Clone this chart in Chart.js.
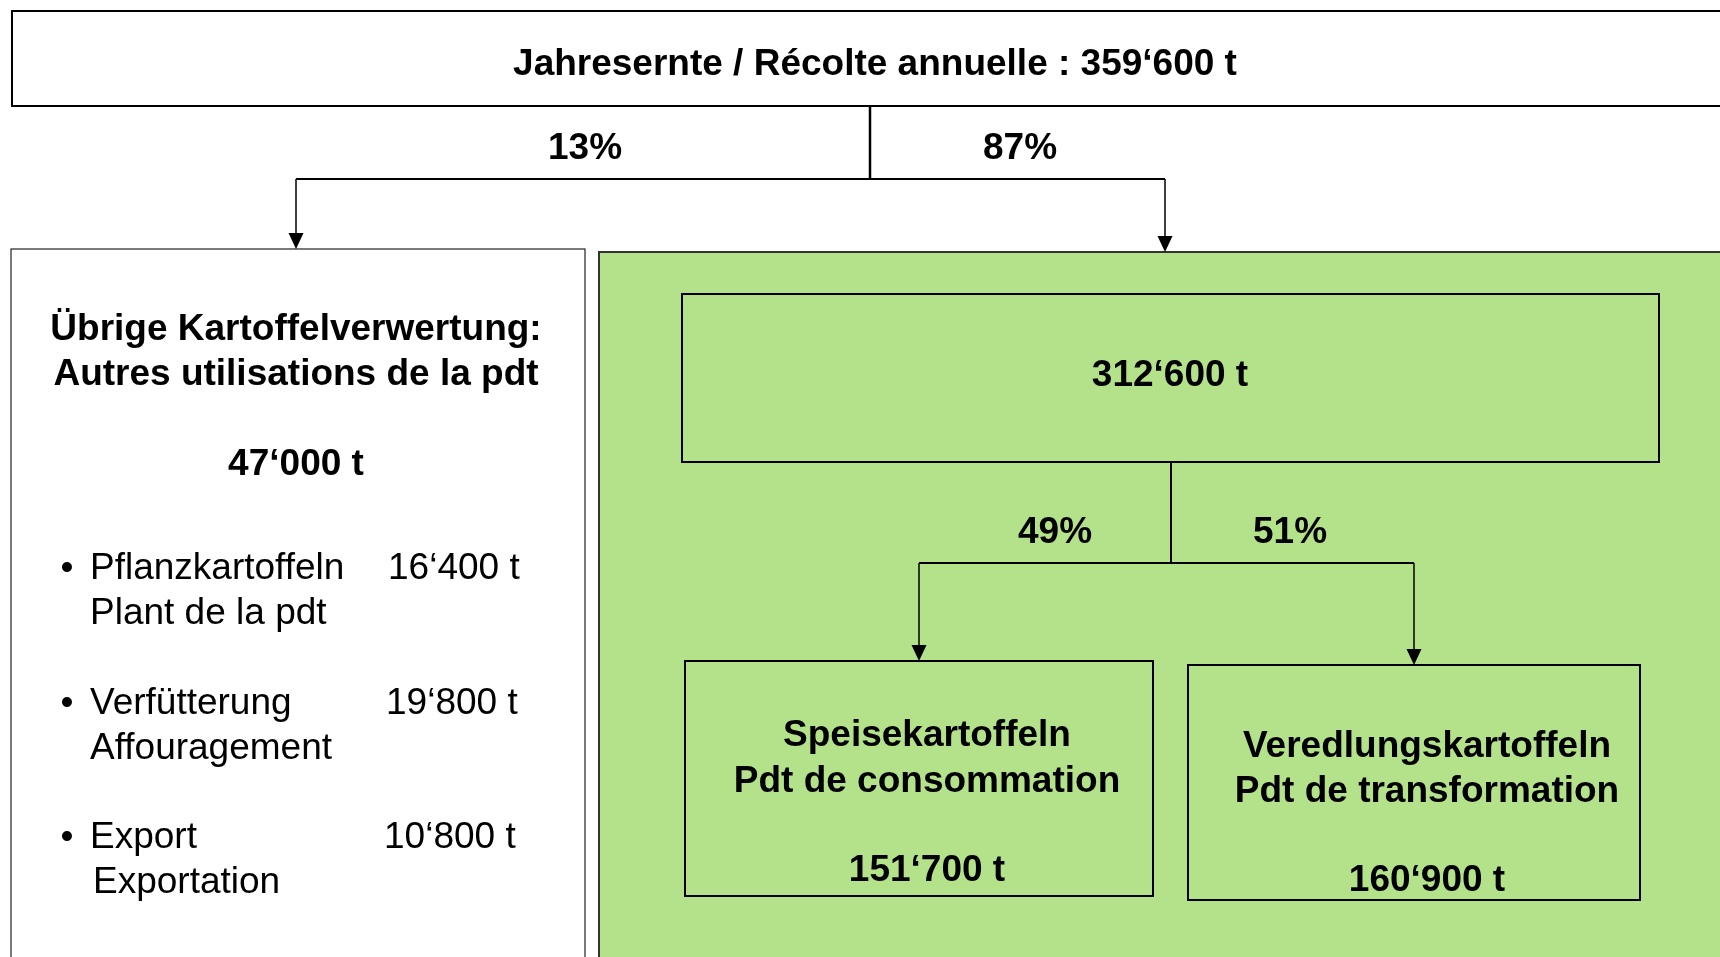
<!DOCTYPE html>
<html>
<head>
<meta charset="utf-8">
<script src="https://cdn.jsdelivr.net/npm/chart.js@4.4.0/dist/chart.umd.min.js"></script>
<style>
  html, body { margin: 0; padding: 0; background: #ffffff; }
  #wrap { width: 1720px; height: 957px; position: relative; }
</style>
</head>
<body>
<div id="wrap"><canvas id="c"></canvas></div>
<script>
// ---- data ----
const harvestTitle = 'Jahresernte / Récolte annuelle : ';
const harvestTotal = 359600;
const splitShares = [13, 87];              // other uses / main use
const otherTotal = 47000;
const mainTotal = 312600;
const mainShares = [49, 51];               // table / processing
const mainCategories = [
  ['Speisekartoffeln', 'Pdt de consommation'],
  ['Veredlungskartoffeln', 'Pdt de transformation']
];
const mainValues = [151700, 160900];
const otherHeading = ['Übrige Kartoffelverwertung:', 'Autres utilisations de la pdt'];
const otherCategoriesDe = ['Pflanzkartoffeln', 'Verfütterung', 'Export'];
const otherCategoriesFr = ['Plant de la pdt', 'Affouragement', 'Exportation'];
const otherValues = [16400, 19800, 10800];

// ---- layout (in chart units, axis 0..1720 x 0..957) ----
const layout = {
  topBox:   [12, 11, 1735, 106],
  leftBox:  [11, 249, 585, 975],
  greenBox: [599, 252, 1735, 975],
  innerBox: [682, 294, 1659, 462],
  boxA:     [685, 661, 1153, 896],
  boxB:     [1188, 665, 1640, 900]
};

const fmt = n => String(n).replace(/\B(?=(\d{3})+(?!\d))/g, '\u2018') + ' t';
const FONT = '"Liberation Sans", Arial, sans-serif';
const DY = 5;

const diagramPlugin = {
  id: 'diagram',
  afterDraw(chart) {
    const ctx = chart.ctx;
    const X = v => chart.scales.x.getPixelForValue(v);
    const Y = v => chart.scales.y.getPixelForValue(v);

    function rect(b, fill, stroke, lw) {
      const x0 = X(b[0]), y0 = Y(b[1]), x1 = X(b[2]), y1 = Y(b[3]);
      if (fill) { ctx.fillStyle = fill; ctx.fillRect(x0, y0, x1 - x0, y1 - y0); }
      ctx.strokeStyle = stroke; ctx.lineWidth = lw;
      ctx.strokeRect(x0, y0, x1 - x0, y1 - y0);
    }
    function line(pts, lw) {
      ctx.strokeStyle = '#000'; ctx.lineWidth = lw;
      ctx.beginPath();
      pts.forEach((p, i) => i ? ctx.lineTo(X(p[0]), Y(p[1])) : ctx.moveTo(X(p[0]), Y(p[1])));
      ctx.stroke();
    }
    function arrow(x, yFrom, yTo) {
      line([[x, yFrom], [x, yTo - 14]], 1.5);
      ctx.fillStyle = '#000';
      ctx.beginPath();
      ctx.moveTo(X(x), Y(yTo));
      ctx.lineTo(X(x) - 7.5, Y(yTo) - 16);
      ctx.lineTo(X(x) + 7.5, Y(yTo) - 16);
      ctx.closePath();
      ctx.fill();
    }
    function text(t, x, y, bold, align) {
      ctx.fillStyle = '#000';
      ctx.font = (bold ? 'bold ' : '') + '37px ' + FONT;
      ctx.textAlign = align || 'center';
      ctx.textBaseline = 'middle';
      ctx.fillText(t, X(x), Y(y + DY));
    }

    ctx.save();
    // boxes
    rect(layout.topBox, '#ffffff', '#000', 2);
    rect(layout.leftBox, '#ffffff', '#222', 1.2);
    rect(layout.greenBox, '#b3e28a', '#333', 2);
    rect(layout.innerBox, null, '#000', 2);
    rect(layout.boxA, null, '#000', 2);
    rect(layout.boxB, null, '#000', 2);

    // top connector
    line([[870, 106], [870, 179]], 2.5);
    line([[296, 179], [1165, 179]], 2);
    arrow(296, 179, 249);
    arrow(1165, 179, 252);

    // inner connector
    line([[1171, 462], [1171, 563]], 2);
    line([[919, 563], [1414, 563]], 2);
    arrow(919, 563, 661);
    arrow(1414, 563, 665);

    // texts
    text(harvestTitle + fmt(harvestTotal), 875, 60, true);
    text(splitShares[0] + '%', 585, 144, true);
    text(splitShares[1] + '%', 1020, 144, true);

    text(otherHeading[0], 296, 325, true);
    text(otherHeading[1], 296, 370, true);
    text(fmt(otherTotal), 296, 460, true);
    const rowsY = [564, 699, 833];
    otherCategoriesDe.forEach((c, i) => {
      text('\u2022', 67, rowsY[i], false);
      text(c, 90, rowsY[i], false, 'left');
      text(otherCategoriesFr[i], i === 2 ? 93 : 90, rowsY[i] + 45, false, 'left');
      text(fmt(otherValues[i]), 388 - i * 2, rowsY[i], false, 'left');
    });

    text(fmt(mainTotal), 1170, 371, true);
    text(mainShares[0] + '%', 1055, 528, true);
    text(mainShares[1] + '%', 1290, 528, true);

    const cats = [[927, 731, 777, 866], [1427, 742, 787, 876]];
    mainCategories.forEach((c, i) => {
      text(c[0], cats[i][0], cats[i][1], true);
      text(c[1], cats[i][0], cats[i][2], true);
      text(fmt(mainValues[i]), cats[i][0], cats[i][3], true);
    });
    ctx.restore();
  }
};

new Chart(document.getElementById('c'), {
  type: 'scatter',
  data: { datasets: [{ data: [], showLine: false }] },
  options: {
    responsive: true,
    maintainAspectRatio: false,
    animation: false,
    layout: { padding: 0 },
    plugins: { legend: { display: false }, tooltip: { enabled: false } },
    scales: {
      x: { type: 'linear', min: 0, max: 1720, display: false },
      y: { type: 'linear', min: 0, max: 957, reverse: true, display: false }
    }
  },
  plugins: [diagramPlugin]
});
</script>
</body>
</html>
